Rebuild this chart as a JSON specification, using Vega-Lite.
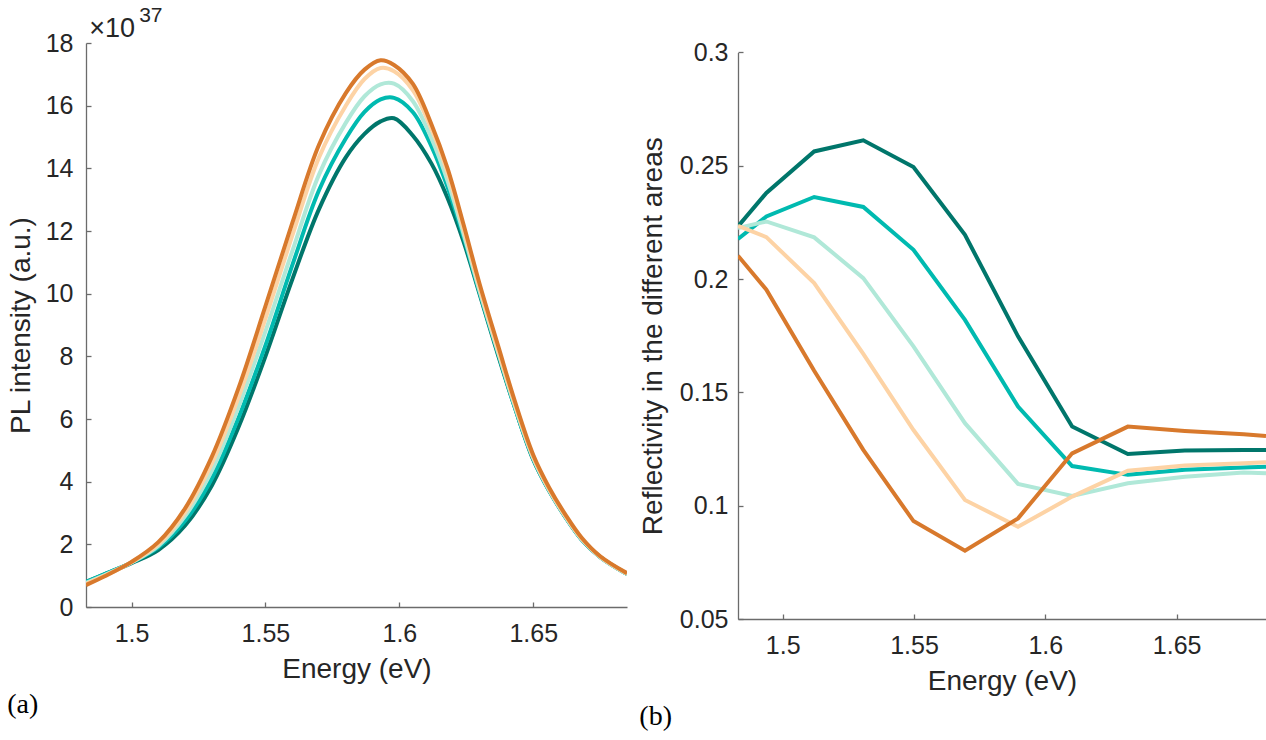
{
  "$schema": "https://vega.github.io/schema/vega-lite/v6.json",
  "padding": {"left": 7, "top": 5, "right": 0, "bottom": 0},
  "background": "white",
  "config": {
    "view": {"stroke": null},
    "font": "Liberation Sans",
    "axis": {
      "grid": false,
      "domainColor": "#6b6b6b",
      "domainWidth": 1.3,
      "tickColor": "#6b6b6b",
      "tickWidth": 1.3,
      "tickSize": -5,
      "labelFont": "Liberation Sans",
      "labelFontSize": 25,
      "labelColor": "#262626",
      "titleFont": "Liberation Sans",
      "titleFontSize": 28,
      "titleFontWeight": "normal",
      "titleColor": "#262626",
      "labelPadding": 19
    },
    "concat": {"spacing": 12}
  },
  "title": {
    "text": "37",
    "anchor": "start",
    "frame": "bounds",
    "dx": 132,
    "font": "Liberation Sans",
    "fontSize": 21,
    "fontWeight": "normal",
    "color": "#262626",
    "offset": -11
  },
  "datasets": {
    "pl": [
      {"s":"s1","E":1.483,"I":0.80},{"s":"s1","E":1.49,"I":1.05},{"s":"s1","E":1.5,"I":1.40},{"s":"s1","E":1.51,"I":1.82},{"s":"s1","E":1.52,"I":2.60},{"s":"s1","E":1.53,"I":3.88},{"s":"s1","E":1.54,"I":5.75},{"s":"s1","E":1.55,"I":8.00},{"s":"s1","E":1.56,"I":10.45},{"s":"s1","E":1.57,"I":12.70},{"s":"s1","E":1.58,"I":14.35},{"s":"s1","E":1.587,"I":15.10},{"s":"s1","E":1.593,"I":15.50},{"s":"s1","E":1.598,"I":15.60},{"s":"s1","E":1.605,"I":15.05},{"s":"s1","E":1.612,"I":14.15},{"s":"s1","E":1.618,"I":13.05},{"s":"s1","E":1.624,"I":11.65},{"s":"s1","E":1.63,"I":9.98},{"s":"s1","E":1.637,"I":8.00},{"s":"s1","E":1.643,"I":6.40},{"s":"s1","E":1.65,"I":4.70},{"s":"s1","E":1.656,"I":3.70},{"s":"s1","E":1.662,"I":2.87},{"s":"s1","E":1.668,"I":2.16},{"s":"s1","E":1.675,"I":1.59},{"s":"s1","E":1.685,"I":1.05},
      {"s":"s2","E":1.483,"I":0.80},{"s":"s2","E":1.49,"I":1.05},{"s":"s2","E":1.5,"I":1.42},{"s":"s2","E":1.51,"I":1.90},{"s":"s2","E":1.52,"I":2.75},{"s":"s2","E":1.53,"I":4.10},{"s":"s2","E":1.54,"I":6.05},{"s":"s2","E":1.55,"I":8.35},{"s":"s2","E":1.56,"I":10.90},{"s":"s2","E":1.57,"I":13.30},{"s":"s2","E":1.58,"I":14.95},{"s":"s2","E":1.587,"I":15.80},{"s":"s2","E":1.593,"I":16.20},{"s":"s2","E":1.598,"I":16.25},{"s":"s2","E":1.605,"I":15.80},{"s":"s2","E":1.612,"I":14.70},{"s":"s2","E":1.618,"I":13.40},{"s":"s2","E":1.624,"I":11.80},{"s":"s2","E":1.63,"I":10.02},{"s":"s2","E":1.637,"I":8.05},{"s":"s2","E":1.643,"I":6.40},{"s":"s2","E":1.65,"I":4.72},{"s":"s2","E":1.656,"I":3.70},{"s":"s2","E":1.662,"I":2.87},{"s":"s2","E":1.668,"I":2.16},{"s":"s2","E":1.675,"I":1.59},{"s":"s2","E":1.685,"I":1.05},
      {"s":"s3","E":1.483,"I":0.77},{"s":"s3","E":1.49,"I":1.02},{"s":"s3","E":1.5,"I":1.42},{"s":"s3","E":1.51,"I":1.95},{"s":"s3","E":1.52,"I":2.90},{"s":"s3","E":1.53,"I":4.35},{"s":"s3","E":1.54,"I":6.40},{"s":"s3","E":1.55,"I":8.80},{"s":"s3","E":1.56,"I":11.35},{"s":"s3","E":1.57,"I":13.80},{"s":"s3","E":1.58,"I":15.45},{"s":"s3","E":1.587,"I":16.30},{"s":"s3","E":1.593,"I":16.68},{"s":"s3","E":1.598,"I":16.70},{"s":"s3","E":1.605,"I":16.15},{"s":"s3","E":1.612,"I":14.95},{"s":"s3","E":1.618,"I":13.60},{"s":"s3","E":1.624,"I":11.90},{"s":"s3","E":1.63,"I":10.08},{"s":"s3","E":1.637,"I":8.10},{"s":"s3","E":1.643,"I":6.45},{"s":"s3","E":1.65,"I":4.75},{"s":"s3","E":1.656,"I":3.72},{"s":"s3","E":1.662,"I":2.88},{"s":"s3","E":1.668,"I":2.17},{"s":"s3","E":1.675,"I":1.59},{"s":"s3","E":1.685,"I":1.05},
      {"s":"s4","E":1.483,"I":0.74},{"s":"s4","E":1.49,"I":1.00},{"s":"s4","E":1.5,"I":1.43},{"s":"s4","E":1.51,"I":2.00},{"s":"s4","E":1.52,"I":3.02},{"s":"s4","E":1.53,"I":4.58},{"s":"s4","E":1.54,"I":6.70},{"s":"s4","E":1.55,"I":9.20},{"s":"s4","E":1.56,"I":11.85},{"s":"s4","E":1.57,"I":14.35},{"s":"s4","E":1.58,"I":16.00},{"s":"s4","E":1.587,"I":16.85},{"s":"s4","E":1.593,"I":17.20},{"s":"s4","E":1.598,"I":17.10},{"s":"s4","E":1.605,"I":16.50},{"s":"s4","E":1.612,"I":15.25},{"s":"s4","E":1.618,"I":13.85},{"s":"s4","E":1.624,"I":12.05},{"s":"s4","E":1.63,"I":10.17},{"s":"s4","E":1.637,"I":8.15},{"s":"s4","E":1.643,"I":6.50},{"s":"s4","E":1.65,"I":4.78},{"s":"s4","E":1.656,"I":3.74},{"s":"s4","E":1.662,"I":2.90},{"s":"s4","E":1.668,"I":2.18},{"s":"s4","E":1.675,"I":1.60},{"s":"s4","E":1.685,"I":1.06},
      {"s":"s5","E":1.483,"I":0.70},{"s":"s5","E":1.49,"I":0.98},{"s":"s5","E":1.5,"I":1.44},{"s":"s5","E":1.51,"I":2.07},{"s":"s5","E":1.52,"I":3.15},{"s":"s5","E":1.53,"I":4.80},{"s":"s5","E":1.54,"I":7.00},{"s":"s5","E":1.55,"I":9.60},{"s":"s5","E":1.56,"I":12.25},{"s":"s5","E":1.57,"I":14.75},{"s":"s5","E":1.58,"I":16.40},{"s":"s5","E":1.587,"I":17.15},{"s":"s5","E":1.593,"I":17.45},{"s":"s5","E":1.598,"I":17.30},{"s":"s5","E":1.605,"I":16.70},{"s":"s5","E":1.612,"I":15.40},{"s":"s5","E":1.618,"I":14.00},{"s":"s5","E":1.624,"I":12.20},{"s":"s5","E":1.63,"I":10.30},{"s":"s5","E":1.637,"I":8.30},{"s":"s5","E":1.643,"I":6.60},{"s":"s5","E":1.65,"I":4.85},{"s":"s5","E":1.656,"I":3.80},{"s":"s5","E":1.662,"I":2.95},{"s":"s5","E":1.668,"I":2.22},{"s":"s5","E":1.675,"I":1.62},{"s":"s5","E":1.685,"I":1.08}
    ],
    "refl": [
      {"s":"s1","E":1.483,"R":0.2232},{"s":"s1","E":1.4938,"R":0.2380},{"s":"s1","E":1.512,"R":0.2563},{"s":"s1","E":1.5307,"R":0.2612},{"s":"s1","E":1.5498,"R":0.2494},{"s":"s1","E":1.5694,"R":0.2195},{"s":"s1","E":1.5896,"R":0.1747},{"s":"s1","E":1.6102,"R":0.1349},{"s":"s1","E":1.6314,"R":0.1228},{"s":"s1","E":1.6531,"R":0.1243},{"s":"s1","E":1.6755,"R":0.1246},{"s":"s1","E":1.684,"R":0.1246},
      {"s":"s2","E":1.483,"R":0.2177},{"s":"s2","E":1.4938,"R":0.2276},{"s":"s2","E":1.512,"R":0.2362},{"s":"s2","E":1.5307,"R":0.2318},{"s":"s2","E":1.5498,"R":0.2129},{"s":"s2","E":1.5694,"R":0.1820},{"s":"s2","E":1.5896,"R":0.1437},{"s":"s2","E":1.6102,"R":0.1175},{"s":"s2","E":1.6314,"R":0.1136},{"s":"s2","E":1.6531,"R":0.1158},{"s":"s2","E":1.6755,"R":0.1169},{"s":"s2","E":1.684,"R":0.1172},
      {"s":"s3","E":1.483,"R":0.2225},{"s":"s3","E":1.4938,"R":0.2254},{"s":"s3","E":1.512,"R":0.2184},{"s":"s3","E":1.5307,"R":0.2004},{"s":"s3","E":1.5498,"R":0.1703},{"s":"s3","E":1.5694,"R":0.1364},{"s":"s3","E":1.5896,"R":0.1096},{"s":"s3","E":1.6102,"R":0.1043},{"s":"s3","E":1.6314,"R":0.1099},{"s":"s3","E":1.6531,"R":0.1128},{"s":"s3","E":1.6755,"R":0.1146},{"s":"s3","E":1.684,"R":0.1143},
      {"s":"s4","E":1.483,"R":0.2235},{"s":"s4","E":1.4938,"R":0.2185},{"s":"s4","E":1.512,"R":0.1982},{"s":"s4","E":1.5307,"R":0.1670},{"s":"s4","E":1.5498,"R":0.1334},{"s":"s4","E":1.5694,"R":0.1025},{"s":"s4","E":1.5896,"R":0.0907},{"s":"s4","E":1.6102,"R":0.1040},{"s":"s4","E":1.6314,"R":0.1154},{"s":"s4","E":1.6531,"R":0.1177},{"s":"s4","E":1.6755,"R":0.1187},{"s":"s4","E":1.684,"R":0.1192},
      {"s":"s5","E":1.483,"R":0.2103},{"s":"s5","E":1.4938,"R":0.1953},{"s":"s5","E":1.512,"R":0.1595},{"s":"s5","E":1.5307,"R":0.1246},{"s":"s5","E":1.5498,"R":0.0932},{"s":"s5","E":1.5694,"R":0.0801},{"s":"s5","E":1.5896,"R":0.0944},{"s":"s5","E":1.6102,"R":0.1231},{"s":"s5","E":1.6314,"R":0.1349},{"s":"s5","E":1.6531,"R":0.1330},{"s":"s5","E":1.6755,"R":0.1315},{"s":"s5","E":1.684,"R":0.1307}
    ]
  },
  "hconcat": [
    {
      "title": {
        "text": "×10",
        "anchor": "start",
        "frame": "bounds",
        "dx": 82,
        "font": "Liberation Sans",
        "fontSize": 27,
        "fontWeight": "normal",
        "color": "#262626",
        "offset": -12
      },
      "hconcat": [
        {
          "width": 541,
          "height": 564,
          "title": {"text": "(a)", "orient": "bottom", "anchor": "start", "frame": "bounds", "font": "Liberation Serif", "fontSize": 28, "fontWeight": "normal", "color": "#000000", "offset": 8},
          "data": {"name": "pl"},
          "mark": {"type": "line", "interpolate": "catmull-rom", "strokeWidth": 4, "clip": true},
          "encoding": {
            "x": {"field": "E", "type": "quantitative", "scale": {"domain": [1.483, 1.685], "nice": false, "zero": false}, "axis": {"title": "Energy (eV)", "values": [1.5, 1.55, 1.6, 1.65], "format": "~g", "titlePadding": 9}},
            "y": {"field": "I", "type": "quantitative", "scale": {"domain": [0, 18], "nice": false}, "axis": {"title": "PL intensity (a.u.)", "values": [0, 2, 4, 6, 8, 10, 12, 14, 16, 18], "labelPadding": 18, "titlePadding": 10}},
            "color": {"field": "s", "type": "nominal", "scale": {"domain": ["s1", "s2", "s3", "s4", "s5"], "range": ["#00766b", "#00bab0", "#b0e8d8", "#fdd3a5", "#d8792c"]}, "legend": null}
          }
        },
        {
          "width": 528,
          "height": 576,
          "title": {"text": "(b)", "orient": "bottom", "anchor": "start", "frame": "bounds", "font": "Liberation Serif", "fontSize": 28, "fontWeight": "normal", "color": "#000000", "offset": 8},
          "data": {"name": "refl"},
          "mark": {"type": "line", "strokeWidth": 4, "clip": true},
          "encoding": {
            "x": {"field": "E", "type": "quantitative", "scale": {"domain": [1.483, 1.684], "nice": false, "zero": false}, "axis": {"title": "Energy (eV)", "values": [1.5, 1.55, 1.6, 1.65], "format": "~g", "titlePadding": 9}},
            "y": {"field": "R", "type": "quantitative", "scale": {"domain": [0.05, 0.3], "range": [576, 9.4], "nice": false, "zero": false}, "axis": {"title": "Reflectivity in the different areas", "values": [0.05, 0.1, 0.15, 0.2, 0.25, 0.3], "format": "~g", "labelPadding": 15, "titlePadding": 12}},
            "color": {"field": "s", "type": "nominal", "scale": {"domain": ["s1", "s2", "s3", "s4", "s5"], "range": ["#00766b", "#00bab0", "#b0e8d8", "#fdd3a5", "#d8792c"]}, "legend": null}
          }
        }
      ]
    }
  ]
}
